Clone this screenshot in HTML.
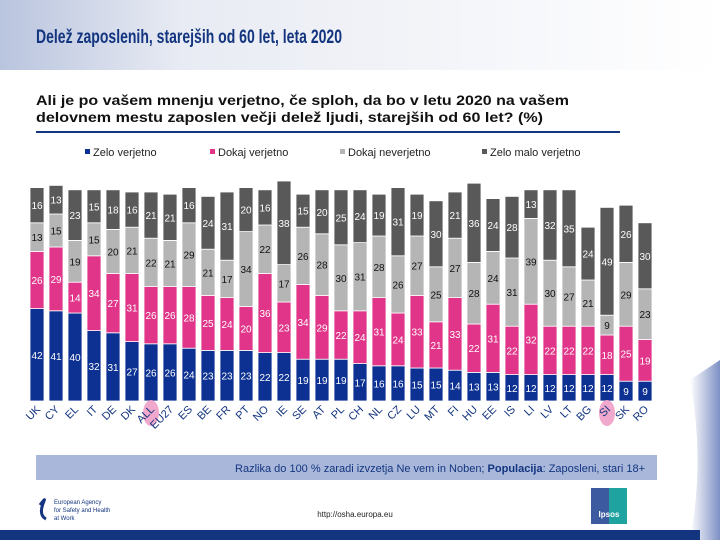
<!DOCTYPE html>
<html><head><meta charset="utf-8"><style>
body{margin:0;width:720px;height:540px;overflow:hidden;background:#fff;font-family:"Liberation Sans",sans-serif}
</style></head><body>
<svg id="s" width="720" height="540" viewBox="0 0 720 540" xmlns="http://www.w3.org/2000/svg">
<defs>
<linearGradient id="hg" x1="0" x2="1" y1="0" y2="0"><stop offset="0" stop-color="#b9c4de"/><stop offset="0.25" stop-color="#e8ebf3"/><stop offset="1" stop-color="#ffffff"/></linearGradient>
<linearGradient id="rg" x1="0" x2="1"><stop offset="0" stop-color="#ffffff"/><stop offset="1" stop-color="#7d8fc4"/></linearGradient>
</defs>
<rect x="0" y="0" width="720" height="70" fill="url(#hg)"/>
<path d="M690 380 Q705 460 690 540 L720 540 L720 360 Z" fill="url(#rg)"/>
<text x="36" y="43" font-size="19" font-weight="bold" fill="#13357f" textLength="306" lengthAdjust="spacingAndGlyphs">Delež zaposlenih, starejših od 60 let, leta 2020</text>
<text x="36" y="105" font-size="14" font-weight="bold" fill="#111" textLength="533" lengthAdjust="spacingAndGlyphs">Ali je po vašem mnenju verjetno, če sploh, da bo v letu 2020 na vašem</text>
<text x="36" y="122" font-size="14" font-weight="bold" fill="#111" textLength="507" lengthAdjust="spacingAndGlyphs">delovnem mestu zaposlen večji delež ljudi, starejših od 60 let?  (%)</text>
<rect x="36" y="131" width="584" height="2" fill="#13357f"/>
<g id="legend"></g>
<g id="bars"></g>
<g id="xl"></g>
<rect x="36" y="455" width="621" height="25" fill="#a9b8da"/>
<text x="645" y="472" font-size="11" text-anchor="end" fill="#13357f">Razlika do 100 % zaradi izvzetja Ne vem in Noben; <tspan font-weight="bold">Populacija</tspan>: Zaposleni, stari 18+</text>
<g>
<path d="M40 505 q6 -8 4 -4 q-6 14 2 18" stroke="#13357f" stroke-width="3" fill="none"/>
<text x="54" y="504" font-size="6" fill="#13357f">European Agency</text>
<text x="54" y="512" font-size="6" fill="#13357f">for Safety and Health</text>
<text x="54" y="520" font-size="6" fill="#13357f">at Work</text>
</g>
<text x="355" y="517" font-size="8" text-anchor="middle" fill="#222">http://osha.europa.eu</text>
<g>
<rect x="591" y="488" width="36" height="36" fill="#3b5aa0"/><rect x="609" y="488" width="18" height="36" fill="#1fa3a0"/>
<text x="609" y="517" font-size="8" font-weight="bold" fill="#fff" text-anchor="middle">Ipsos</text>
</g>
<rect x="0" y="530" width="700" height="10" fill="#13357f"/>
</svg>
<script>
const countries=["UK","CY","EL","IT","DE","DK","ALL","EU27","ES","BE","FR","PT","NO","IE","SE","AT","PL","CH","NL","CZ","LU","MT","FI","HU","EE","IS","LI","LV","LT","BG","SI","SK","RO"];
const zeloVerjetno=[42,41,40,32,31,27,26,26,24,23,23,23,22,22,19,19,19,17,16,16,15,15,14,13,13,12,12,12,12,12,12,9,9];
const dokajVerjetno=[26,29,14,34,27,31,26,26,28,25,24,20,36,23,34,29,22,24,31,24,33,21,33,22,31,22,32,22,22,22,18,25,19];
const dokajNeverjetno=[13,15,19,15,20,21,22,21,29,21,17,34,22,17,26,28,30,31,28,26,27,25,27,28,24,31,39,30,27,21,9,29,23];
const zeloMalo=[16,13,23,15,18,16,21,21,16,24,31,20,16,38,15,20,25,24,19,31,19,30,21,36,24,28,13,32,35,24,49,26,30];
const seriesNames=["Zelo verjetno","Dokaj verjetno","Dokaj neverjetno","Zelo malo verjetno"];
const highlighted=["ALL","SI"];

const NS="http://www.w3.org/2000/svg";
const colors=["#0d3192","#e03588","#b5b5b5","#595959"];
const txtCol=["#fff","#fff","#111","#fff"];
const base=401, unit=2.2, x0=37, pitch=19, bw=14;
const xPos=i=>x0+i*pitch;
const yLen=v=>v*unit;
function mk(tag,attrs,parent){const e=document.createElementNS(NS,tag);for(const k in attrs)e.setAttribute(k,attrs[k]);parent.appendChild(e);return e;}
const series=[zeloVerjetno,dokajVerjetno,dokajNeverjetno,zeloMalo];
const barsG=document.getElementById('bars');
const xl=document.getElementById('xl');
countries.forEach((c,i)=>{
  const cx=xPos(i);
  if(highlighted.includes(c)){
    const hc=mk('ellipse',{cx:cx,cy:413,rx:8,ry:13,fill:'#f0a8cc'},xl);
    
    
  }
  const t=mk('text',{x:cx+4,y:410,'font-size':11,fill:'#13357f','text-anchor':'end',transform:`rotate(-45 ${cx+4} 410)`},xl);
  t.textContent=c;
  
  
  let y=base;
  series.forEach((s,k)=>{
    const h=yLen(s[i]);
    y-=h;
    const r=mk('rect',{x:cx-bw/2,y:y,width:bw,height:h,fill:colors[k],stroke:'#fff','stroke-width':0.8},barsG);
    
    
    const l=mk('text',{x:cx,y:y+h/2+4,'font-size':10,fill:txtCol[k],'text-anchor':'middle'},barsG);
    l.textContent=s[i];
    
    
  });
});
const lg=document.getElementById('legend');
const lx=[85,210,340,482];
seriesNames.forEach((n,k)=>{
  const sq=mk('rect',{x:lx[k],y:149,width:5,height:5,fill:colors[k]},lg);
  
  
  const t=mk('text',{x:lx[k]+8,y:156,'font-size':11,fill:'#222'},lg);
  t.textContent=n;
  
  
});
</script>
</body></html>
